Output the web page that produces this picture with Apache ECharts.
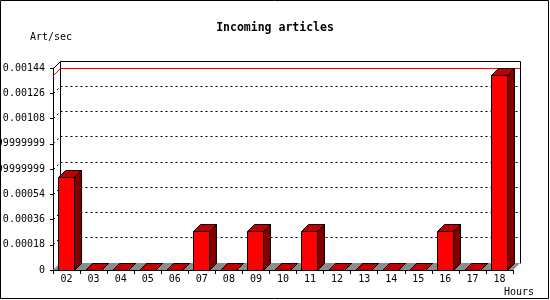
<!DOCTYPE html>
<html><head><meta charset="utf-8">
<script src="https://cdn.jsdelivr.net/npm/echarts@6/dist/echarts.min.js"></script>
<style>html,body{margin:0;padding:0;background:#fff}#c{width:550px;height:300px}</style>
</head><body><div id="c"></div>
<script>
const hours = ['02','03','04','05','06','07','08','09','10','11','12','13','14','15','16','17','18'];
const artPerSec = [0.00066,0,0,0,0,0.000278,0,0.000278,0,0.000278,0,0,0,0,0.000278,0,0.001389];
const yTickValues = [0,0.00018,0.00036,0.00054,0.00072,0.0009,0.00108,0.00126,0.00144];
const yTickLabels = ['0','0.00018','0.00036','0.00054','0.00071999999999999','0.00089999999999999','0.00108','0.00126','0.00144'];
const maxLine = [Math.max.apply(null, artPerSec)];

const D = 7;
const MONO = '"DejaVu Sans Mono", "Liberation Mono", monospace';
const r = v => Math.round(v - 0.5) + 0.5;

function renderBackdrop(params, api) {
  const cs = params.coordSys;
  const x = cs.x, y = cs.y, W = cs.width, H = cs.height;
  const yb = y + H;
  return {type: 'group', children: [
    {type: 'polygon', shape: {points: [[x, yb], [x + W, yb], [x + W + D, yb - D], [x + D, yb - D]]},
      style: {fill: '#8c8c8c', stroke: null}},
    {type: 'polyline', shape: {points: [[r(x + D), r(yb - D)], [r(x + D), r(y - D)], [r(x + W + D), r(y - D)], [r(x + W + D), r(yb - D)]]},
      style: {stroke: '#000', lineWidth: 1, fill: null}},
    {type: 'line', shape: {x1: r(x), y1: r(y), x2: r(x + D), y2: r(y - D)},
      style: {stroke: '#000', lineWidth: 1}}
  ]};
}

function renderGridLine(params, api) {
  const cs = params.coordSys;
  const p = api.coord([0, api.value(0)]);
  const y = r(p[1]);
  const x = r(cs.x);
  return {type: 'group', children: [
    {type: 'line', shape: {x1: x + D, y1: y - D, x2: r(cs.x + cs.width + D), y2: y - D},
      style: {stroke: '#000', lineWidth: 1, lineDash: [2, 3]}},
    {type: 'line', shape: {x1: x, y1: y, x2: x + D, y2: y - D},
      style: {stroke: '#000', lineWidth: 1, lineDash: [2, 3]}}
  ]};
}

function renderMaxLine(params, api) {
  const cs = params.coordSys;
  const p = api.coord([0, api.value(0)]);
  const y = r(p[1]);
  const x = r(cs.x);
  return {type: 'group', children: [
    {type: 'line', shape: {x1: x + D, y1: y - D, x2: r(cs.x + cs.width + D), y2: y - D},
      style: {stroke: '#ff0000', lineWidth: 1}},
    {type: 'line', shape: {x1: x, y1: y, x2: x + D, y2: y - D},
      style: {stroke: '#ff0000', lineWidth: 1}}
  ]};
}

function renderBar(params, api) {
  const i = api.value(0), v = api.value(1);
  const base = api.coord([i, 0]);
  const top = api.coord([i, v]);
  const band = api.size([1, 0])[0];
  const w = Math.round(band * 0.59);
  const x0 = r(base[0] - w / 2 - 0.3), x1 = x0 + w;
  const yb = r(base[1]), yt = r(top[1]);
  return {type: 'group', children: [
    {type: 'polygon', shape: {points: [[x1, yb], [x1 + D, yb - D], [x1 + D, yt - D], [x1, yt]]},
      style: {fill: '#800000', stroke: '#000', lineWidth: 1}},
    {type: 'polygon', shape: {points: [[x0, yt], [x1, yt], [x1 + D, yt - D], [x0 + D, yt - D]]},
      style: {fill: '#c00000', stroke: '#000', lineWidth: 1}},
    {type: 'rect', shape: {x: x0, y: yt, width: w, height: yb - yt},
      style: {fill: '#ff0000', stroke: '#000', lineWidth: 1}}
  ]};
}

const chart = echarts.init(document.getElementById('c'), null, {renderer: 'canvas'});
chart.setOption({
  animation: false,
  backgroundColor: '#fff',
  title: {text: 'Incoming articles', left: 'center', top: 17,
    textStyle: {fontFamily: MONO, fontSize: 11.5, fontWeight: 'bold', color: '#000'}},
  grid: {left: 53, right: 37, top: 68, bottom: 30, containLabel: false, outerBoundsMode: 'none'},
  xAxis: {
    type: 'category', data: hours, boundaryGap: true,
    axisLine: {show: true, lineStyle: {color: '#000', width: 1}},
    axisTick: {show: true, length: 4, lineStyle: {color: '#000'}},
    axisLabel: {interval: 0, margin: 4, color: '#000', fontFamily: MONO, fontSize: 10},
    splitLine: {show: false}
  },
  yAxis: {
    type: 'value', min: 0, max: 0.00144, interval: 0.00018,
    axisLine: {show: true, lineStyle: {color: '#000', width: 1}},
    axisTick: {show: true, length: 3, lineStyle: {color: '#000'}},
    axisLabel: {margin: 8, color: '#000', fontFamily: MONO, fontSize: 10, hideOverlap: false,
      formatter: function (v) {
        let best = 0;
        for (let k = 0; k < yTickValues.length; k++) {
          if (Math.abs(yTickValues[k] - v) < Math.abs(yTickValues[best] - v)) best = k;
        }
        return yTickLabels[best];
      }},
    splitLine: {show: false}
  },
  graphic: [
    {type: 'rect', shape: {x: 0.5, y: 0.5, width: 548, height: 298}, style: {fill: null, stroke: '#000', lineWidth: 1}, z: 100},
    {type: 'text', left: 30, top: 32, style: {text: 'Art/sec', font: '10px ' + MONO, fill: '#000'}},
    {type: 'text', left: 504, top: 287, style: {text: 'Hours', font: '10px ' + MONO, fill: '#000'}}
  ],
  series: [
    {type: 'custom', renderItem: renderBackdrop, data: [[0]], silent: true, z: 1},
    {type: 'custom', renderItem: renderGridLine, data: yTickValues.slice(1, -1).map(v => [v]), silent: true, z: 2, encode: {y: 0}},
    {type: 'custom', renderItem: renderMaxLine, data: maxLine.map(v => [v]), silent: true, z: 3, encode: {y: 0}},
    {type: 'custom', renderItem: renderBar, data: artPerSec.map((v, i) => [i, v]), encode: {x: 0, y: 1}, z: 4}
  ]
});
</script></body></html>
